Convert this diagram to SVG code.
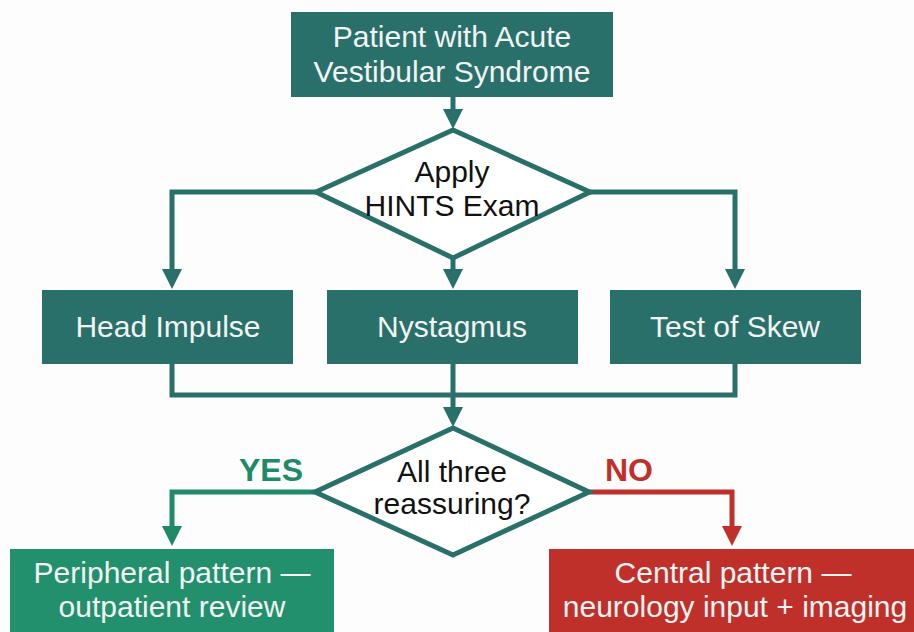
<svg xmlns="http://www.w3.org/2000/svg" width="914" height="632" viewBox="0 0 914 632">
<style>
text{font-family:"Liberation Sans",Arial,sans-serif;font-size:30px;text-anchor:middle}
.w{fill:#f2f4f3}
.k{fill:#111}
.teal{fill:#29706a}
.dia{fill:#fff;stroke:#29706a;stroke-width:5;stroke-linejoin:miter}
.c{fill:none;stroke-width:5}
.ct{stroke:#29706a}
.cg{stroke:#1f8a68}
.cr{stroke:#c0302b}
.lbl{font-weight:bold;font-size:32px}
</style>
<defs>
<marker id="at" viewBox="0 0 10 10" refX="0.5" refY="5" markerWidth="20" markerHeight="24" markerUnits="userSpaceOnUse" orient="auto"><path d="M0,0 L10,5 L0,10 z" fill="#29706a"/></marker>
<marker id="ag" viewBox="0 0 10 10" refX="0.5" refY="5" markerWidth="20" markerHeight="24" markerUnits="userSpaceOnUse" orient="auto"><path d="M0,0 L10,5 L0,10 z" fill="#1f8a68"/></marker>
<marker id="ar" viewBox="0 0 10 10" refX="0.5" refY="5" markerWidth="20" markerHeight="24" markerUnits="userSpaceOnUse" orient="auto"><path d="M0,0 L10,5 L0,10 z" fill="#c0302b"/></marker>
</defs>
<rect width="914" height="632" fill="#fdfdfd"/>
<g id="connectors">
<path class="c ct" d="M453,97 V110" marker-end="url(#at)"/>
<path class="c ct" d="M316,192 H172 V270" marker-end="url(#at)"/>
<path class="c ct" d="M453,258 V270" marker-end="url(#at)"/>
<path class="c ct" d="M590,192 H735 V270" marker-end="url(#at)"/>
<path class="c ct" d="M172,364 V395 H735 V364"/>
<path class="c ct" d="M453,364 V408" marker-end="url(#at)"/>
<path class="c cg" d="M315,492 H172 V527" marker-end="url(#ag)"/>
<path class="c cr" d="M589,492 H732 V527" marker-end="url(#ar)"/>
<text class="lbl" x="271" y="481" fill="#1f8a68">YES</text>
<text class="lbl" x="629" y="481" fill="#c0302b">NO</text>
</g>
<g id="start">
<rect class="teal" x="291" y="12" width="322" height="85"/>
<text class="w" x="452" y="47">Patient with Acute</text>
<text class="w" x="452" y="82">Vestibular Syndrome</text>
</g>
<g id="hints">
<polygon class="dia" points="453,130 590,192 453,258 316,192"/>
<text class="k" x="452" y="182">Apply</text>
<text class="k" x="452" y="216">HINTS Exam</text>
</g>
<g id="head-impulse">
<rect class="teal" x="42" y="290" width="251" height="74"/>
<text class="w" x="168" y="337">Head Impulse</text>
</g>
<g id="nystagmus">
<rect class="teal" x="327" y="290" width="251" height="74"/>
<text class="w" x="452" y="337">Nystagmus</text>
</g>
<g id="skew">
<rect class="teal" x="610" y="290" width="251" height="74"/>
<text class="w" x="735" y="337">Test of Skew</text>
</g>
<g id="reassuring">
<polygon class="dia" points="453,428 589,492 453,555 315,492"/>
<text class="k" x="452" y="482">All three</text>
<text class="k" x="452" y="514">reassuring?</text>
</g>
<g id="peripheral">
<rect x="10" y="549" width="324" height="90" fill="#22906d"/>
<text class="w" x="172" y="583">Peripheral pattern —</text>
<text class="w" x="172" y="617">outpatient review</text>
</g>
<g id="central">
<rect x="549" y="549" width="375" height="90" fill="#c0302b"/>
<text class="w" x="733" y="583">Central pattern —</text>
<text class="w" x="735" y="617">neurology input + imaging</text>
</g>
</svg>
